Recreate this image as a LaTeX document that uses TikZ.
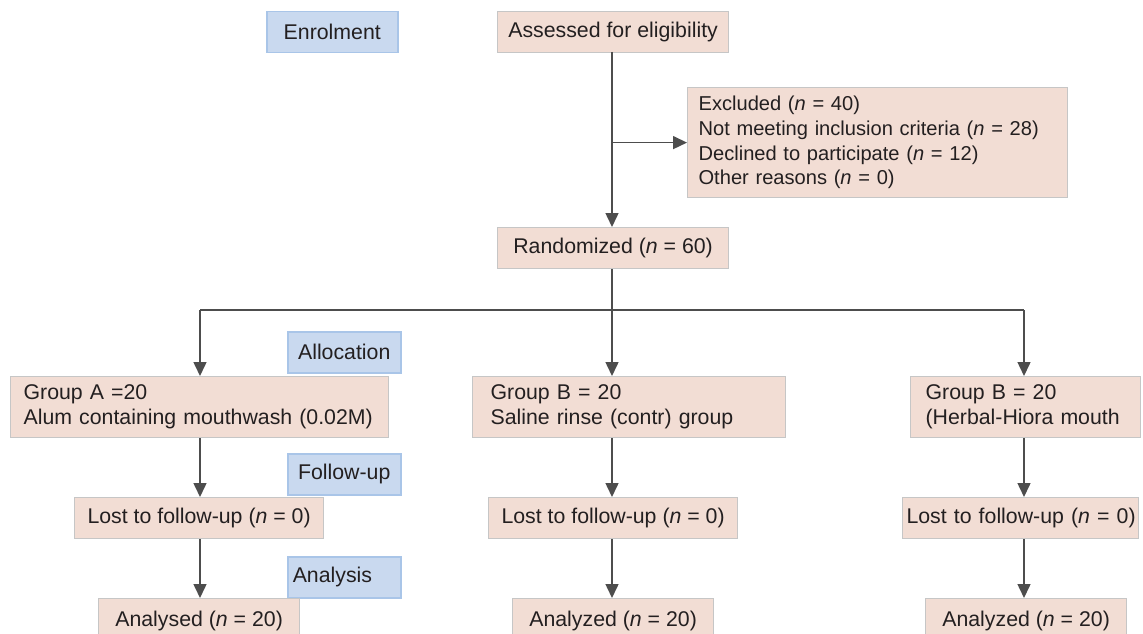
\documentclass[tikz,border=0pt]{standalone}
\usepackage{fontspec}
\setmainfont{Liberation Sans}
\usetikzlibrary{arrows.meta,calc}
\definecolor{pinkfill}{HTML}{F2DDD4}
\definecolor{pinkline}{HTML}{C6C6C6}
\definecolor{bluefill}{HTML}{C9D9EF}
\definecolor{blueline}{HTML}{A9C5E8}
\definecolor{linec}{HTML}{4D4D4D}
\definecolor{txt}{HTML}{231F20}
\newcommand{\fsz}{\fontsize{21.3}{25}\selectfont}
\newcommand{\fsx}{\fontsize{20.1}{24.6}\selectfont}
\begin{document}
\begin{tikzpicture}[x=1pt,y=-1pt,
  pbox/.style={draw=pinkline, fill=pinkfill, line width=1.2pt, inner sep=0pt, anchor=north west, font=\fsz, text=txt},
  bbox/.style={draw=blueline, fill=bluefill, line width=1.5pt, inner sep=0pt, anchor=north west, font=\fsz, text=txt, minimum width=113pt, minimum height=41pt},
  conn/.style={draw=linec, line width=1.5pt},
  arr/.style={conn, -{Triangle[width=13pt,length=14pt]}}]
\useasboundingbox (0,0) rectangle (1143,634);
\clip (0,0) rectangle (1143,634);
\fill[white] (0,0) rectangle (1143,634);

% phase labels
\node[bbox, minimum width=131pt] (enrol) at (266,11) {Enrolment};
\node[bbox] (alloc) at (287,331) {Allocation};
\node[bbox] (follow) at (287,453) {Follow-up};
\node[bbox, text width=103pt, inner xsep=5pt, align=left] (anal) at (287,556) {Analysis};

% main boxes
\node[pbox, minimum width=231pt, minimum height=41pt] (assess) at (497,11) {Assessed for eligibility};
\node[pbox, font=\fsx, minimum height=110pt, text width=358pt, inner xsep=11pt, align=left] (excl) at (687,87)
  {Excluded (\textit{n} = 40)\\Not meeting inclusion criteria (\textit{n} = 28)\\Declined to participate (\textit{n} = 12)\\Other reasons (\textit{n} = 0)};
\node[pbox, minimum width=231pt, minimum height=41pt] (rand) at (497,227) {Randomized (\textit{n} = 60)};

\node[pbox, minimum height=61pt, text width=352pt, inner xsep=13pt, align=left] (gA) at (10,376)
  {Group A =20\\Alum containing mouthwash (0.02M)};
\node[pbox, minimum height=61pt, text width=277pt, inner xsep=18pt, align=left] (gB) at (472,376)
  {Group B = 20\\Saline rinse (contr) group};
\node[pbox, minimum height=61pt, text width=200pt, inner xsep=15pt, align=left] (gC) at (910,376)
  {Group B = 20\\(Herbal-Hiora mouth};

\node[pbox, minimum width=249pt, minimum height=41pt] (lA) at (74,497) {Lost to follow-up (\textit{n} = 0)};
\node[pbox, minimum width=249pt, minimum height=41pt] (lB) at (488,497) {Lost to follow-up (\textit{n} = 0)};
\node[pbox, minimum width=236pt, minimum height=41pt, text width=230pt, inner xsep=3pt, align=right] (lC) at (902,497) {Lost to follow-up (\textit{n} = 0)};

\node[pbox, minimum width=201pt, minimum height=44pt] (aA) at (98,598) {Analysed (\textit{n} = 20)};
\node[pbox, minimum width=201pt, minimum height=44pt] (aB) at (512,598) {Analyzed (\textit{n} = 20)};
\node[pbox, minimum width=201pt, minimum height=44pt] (aC) at (925,598) {Analyzed (\textit{n} = 20)};

% connectors
\coordinate (top) at (612,52);
\coordinate (br) at (top |- excl.west);
\coordinate (split) at (612,310);
\coordinate (cA) at (200,310);
\coordinate (cC) at (1024,310);

\draw[arr] (top) -- (top |- rand.north);
\draw[arr] (br) -- (excl.west);
\draw[conn] (split |- rand.south) -- (split);
\draw[conn] (cA) -- (cC);
\draw[arr] (cA) -- (cA |- gA.north);
\draw[arr] (split) -- (split |- gB.north);
\draw[arr] (cC) -- (cC |- gC.north);

\draw[arr] (cA |- gA.south) -- (cA |- lA.north);
\draw[arr] (split |- gB.south) -- (split |- lB.north);
\draw[arr] (cC |- gC.south) -- (cC |- lC.north);

\draw[arr] (cA |- lA.south) -- (cA |- aA.north);
\draw[arr] (split |- lB.south) -- (split |- aB.north);
\draw[arr] (cC |- lC.south) -- (cC |- aC.north);
\end{tikzpicture}
\end{document}
